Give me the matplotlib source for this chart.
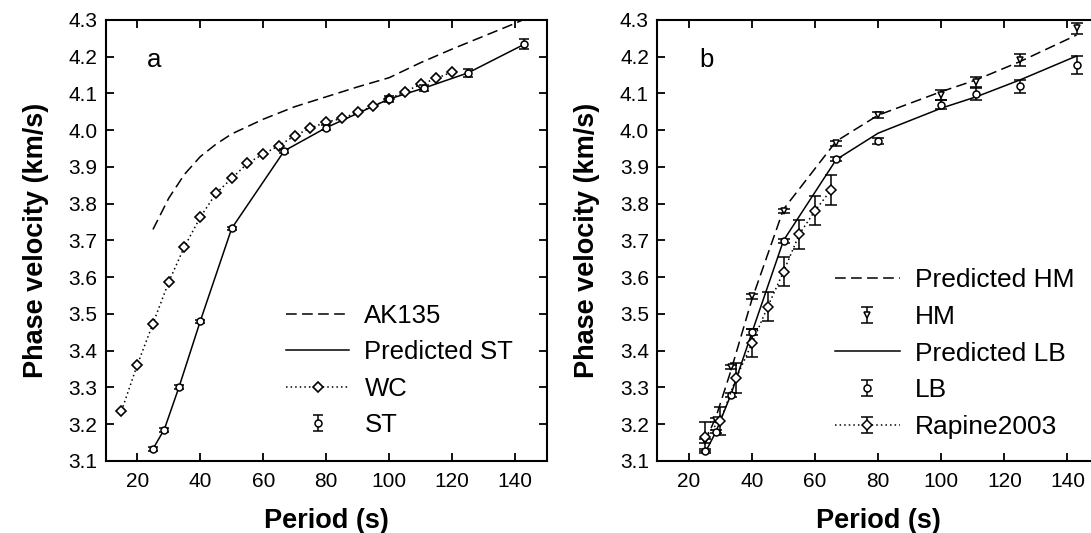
import matplotlib
matplotlib.use("Agg")
import numpy as np
import matplotlib.pyplot as plt
from matplotlib.legend_handler import HandlerErrorbar
from matplotlib.container import ErrorbarContainer

plt.rcParams['font.family'] = ['Liberation Sans', 'DejaVu Sans']

# ---- panel a ----
ak135_period = [25, 30, 35, 40, 45, 50, 60, 70, 80, 90, 100, 110, 120, 130, 140, 145]
ak135_vel = [3.73, 3.815, 3.88, 3.928, 3.962, 3.99, 4.03, 4.064, 4.091, 4.118, 4.143,
             4.184, 4.221, 4.256, 4.291, 4.31]

wc_period = [15, 20, 25, 30, 35, 40, 45, 50, 55, 60, 65, 70, 75, 80, 85, 90, 95,
             100, 105, 110, 115, 120]
wc_vel = [3.236, 3.361, 3.474, 3.587, 3.683, 3.763, 3.828, 3.869, 3.910, 3.935,
          3.958, 3.985, 4.006, 4.022, 4.032, 4.049, 4.066, 4.085, 4.105, 4.125,
          4.141, 4.159]

periods = [25, 28.6, 33.3, 40, 50, 66.7, 80, 100, 111.1, 125, 142.9]
st_vel = [3.133, 3.184, 3.302, 3.480, 3.733, 3.944, 4.007, 4.085, 4.114, 4.155, 4.234]
st_err = [0.005, 0.005, 0.005, 0.005, 0.005, 0.006, 0.007, 0.007, 0.008, 0.011, 0.014]
pred_st = [3.133, 3.186, 3.302, 3.480, 3.733, 3.944, 4.007, 4.085, 4.115, 4.156, 4.234]

# ---- panel b ----
hm_vel = [3.155, 3.212, 3.355, 3.548, 3.780, 3.964, 4.041, 4.096, 4.132, 4.191, 4.277]
hm_err = [0.006, 0.006, 0.006, 0.006, 0.006, 0.006, 0.008, 0.013, 0.014, 0.017, 0.016]
pred_hm = [3.15, 3.22, 3.345, 3.54, 3.785, 3.97, 4.041, 4.105, 4.137, 4.187, 4.259]

lb_vel = [3.128, 3.180, 3.280, 3.450, 3.699, 3.921, 3.971, 4.069, 4.098, 4.120, 4.178]
lb_err = [0.005, 0.005, 0.005, 0.008, 0.005, 0.006, 0.008, 0.012, 0.016, 0.018, 0.024]
pred_lb = [3.12, 3.18, 3.28, 3.45, 3.70, 3.92, 3.992, 4.06, 4.091, 4.137, 4.202]

rap_period = [25, 30, 35, 40, 45, 50, 55, 60, 65]
rap_vel = [3.166, 3.210, 3.326, 3.420, 3.520, 3.615, 3.717, 3.781, 3.837]
rap_err = [0.04, 0.038, 0.04, 0.038, 0.04, 0.04, 0.039, 0.04, 0.04]

dash = (0, (7, 3.5))
dot = (0, (1, 2))

fig = plt.figure(figsize=(10.91, 5.33), dpi=100)
ax1 = fig.add_axes([0.0969, 0.1351, 0.4042, 0.8274])
ax2 = fig.add_axes([0.6025, 0.1351, 0.4048, 0.8274])


def style(ax, letter):
    ax.set_xlim(10, 150)
    ax.set_ylim(3.1, 4.3)
    ax.set_xticks(np.arange(20, 141, 20))
    ax.set_yticks(np.arange(3.1, 4.31, 0.1))
    ax.set_yticklabels(['%.1f' % v for v in np.arange(3.1, 4.31, 0.1)])
    ax.tick_params(direction='in', length=6, width=1.3, top=True, right=True,
                   labelsize=15, pad=6)
    ax.tick_params(axis='x', pad=8)
    for s in ax.spines.values():
        s.set_linewidth(1.5)
    ax.set_xlabel('Period (s)', fontsize=19.5, fontweight='bold', labelpad=12)
    ax.set_ylabel('Phase velocity (km/s)', fontsize=19.5, fontweight='bold', labelpad=14)
    ax.text(0.094, 0.91, letter, transform=ax.transAxes, fontsize=18.5,
            va='center', ha='left')


def ordered_legend(ax, order, anchor, size):
    h, l = ax.get_legend_handles_labels()
    d = dict(zip(l, h))
    ax.legend([d[k] for k in order], order, bbox_to_anchor=anchor, loc='upper left',
              handler_map={ErrorbarContainer: HandlerErrorbar(yerr_size=0.3)},
              frameon=False, fontsize=size, handlelength=2.45, handletextpad=0.6,
              labelspacing=0.48, borderpad=0, borderaxespad=0)


# panel a
ax1.plot(ak135_period, ak135_vel, color='k', lw=1.1, linestyle=dash, label='AK135')
ax1.plot(periods, pred_st, color='k', lw=1.1, label='Predicted ST')
ax1.plot(wc_period, wc_vel, color='k', lw=1.1, linestyle=dot, marker='D', ms=5.5,
         mfc='white', mec='k', mew=1.2, label='WC')
ax1.errorbar(periods, st_vel, yerr=st_err, fmt='o', ms=5, mfc='white', mec='k',
             mew=1.1, ecolor='k', elinewidth=1.1, capsize=3.6, capthick=1.1,
             label='ST')
style(ax1, 'a')
ordered_legend(ax1, ['AK135', 'Predicted ST', 'WC', 'ST'], (0.409, 0.356), 18.5)

# panel b
ax2.plot(periods, pred_hm, color='k', lw=1.1, linestyle=dash, label='Predicted HM')
ax2.errorbar(periods, hm_vel, yerr=hm_err, fmt='v', ms=5, mfc='white', mec='k',
             mew=1.1, ecolor='k', elinewidth=1.1, capsize=4, capthick=1.1,
             label='HM')
ax2.plot(periods, pred_lb, color='k', lw=1.1, label='Predicted LB')
ax2.errorbar(periods, lb_vel, yerr=lb_err, fmt='o', ms=5, mfc='white', mec='k',
             mew=1.1, ecolor='k', elinewidth=1.1, capsize=4, capthick=1.1,
             label='LB')
ax2.errorbar(rap_period, rap_vel, yerr=rap_err, fmt='D', linestyle=dot, color='k',
             lw=1.1, ms=5.5, mfc='white', mec='k', mew=1.1, ecolor='k',
             elinewidth=1.1, capsize=4, capthick=1.1, label='Rapine2003')
style(ax2, 'b')
ordered_legend(ax2, ['Predicted HM', 'HM', 'Predicted LB', 'LB', 'Rapine2003'],
               (0.402, 0.437), 19)

fig.savefig('out.png', dpi=100)
